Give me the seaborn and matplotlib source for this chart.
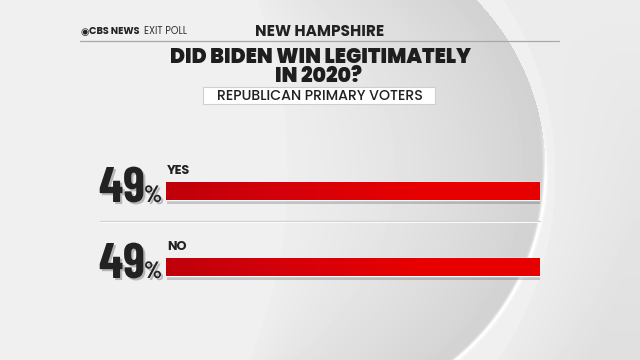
import numpy as np
import pandas as pd
import matplotlib
matplotlib.use("Agg")
import matplotlib.pyplot as plt
import matplotlib.patheffects as pe
from matplotlib.lines import Line2D
from matplotlib.patches import Rectangle
from matplotlib.colors import LinearSegmentedColormap
import seaborn as sns

# ---- data ----
answers = ["YES", "NO"]
shares = [49, 49]
value_labels = ["49", "49"]
state = "NEW HAMPSHIRE"
title_lines = ["DID BIDEN WIN LEGITIMATELY", "IN 2020?"]
subgroup = "REPUBLICAN PRIMARY VOTERS"

sns.set_theme(style="white")
GEO = ["Poppins", "Lato", "DejaVu Sans"]
COND = ["Barlow Condensed", "Roboto Condensed", "Oswald", "DejaVu Sans"]
plt.rcParams["font.family"] = GEO

W, H = 640, 360
fig = plt.figure(figsize=(6.4, 3.6), dpi=100)

# ---- background shading ----
bg = fig.add_axes([0, 0, 1, 1], zorder=-10)
yy, xx = np.mgrid[0:H, 0:W].astype(float)
dB = np.hypot(xx - 230, yy - 175) - 325
val = np.where(dB < 0, 0.94, 0.925 - 0.05 * np.clip(dB / 80, 0, 1) * (yy / H))
dH = np.hypot(xx - 300, yy - 170) - 245
dL = np.hypot(xx + 200, yy - 170) - 487
lens = (dH < 0) & (dL > 0)
t = np.clip(dL / (dL - dH + 1e-9), 0, 1)
val = np.where(lens, 0.93 - 0.11 * t ** 1.3, val)
hl = np.exp(-(dH / 2.2) ** 2) * np.clip((yy - 120) / 60, 0, 1) * (xx > 300)
val = val * (1 - hl) + 1.0 * hl
bg.imshow(val, cmap="gray", vmin=0, vmax=1, extent=[0, W, H, 0], aspect="auto", interpolation="bilinear")
bg.set_xlim(0, W)
bg.set_ylim(H, 0)
bg.axis("off")

def fx(x):
    return x / W

def fy(y):
    return 1 - y / H

# ---- bar axes ----
row_gap = 76
ax_top = 191 - row_gap / 2
ax_h = 2 * row_gap
ax = fig.add_axes([fx(166), fy(ax_top + ax_h), fx(540) - fx(166), ax_h / H])
df = pd.DataFrame({"answer": answers, "share": shares})
sns.barplot(data=df, x="share", y="answer", orient="h", color="#d80000",
            width=18 / row_gap, ax=ax, saturation=1)
ax.set_xlim(0, max(shares))
ax.set_ylim(1.5, -0.5)
ax.axis("off")
ax.patch.set_alpha(0)

grad = np.linspace(0, 1, 256).reshape(1, -1)
redmap = LinearSegmentedColormap.from_list("r", ["#bf000b", "#d6000a", "#e60000", "#e80000"])
for p in ax.patches:
    p.set_path_effects([pe.SimplePatchShadow(offset=(1, -3), shadow_rgbFace="#000000", alpha=0.18), pe.Normal()])
    x0, y0 = p.get_x(), p.get_y()
    w, h = p.get_width(), p.get_height()
    im = ax.imshow(grad, cmap=redmap, extent=[x0, x0 + w, y0 + h, y0], aspect="auto", zorder=3)
    im.set_clip_path(p)
ax.set_xlim(0, max(shares))
ax.set_ylim(1.5, -0.5)

shadow = [pe.withSimplePatchShadow(offset=(1.5, -1.5), alpha=0.25)]
for i, (lab, v) in enumerate(zip(answers, value_labels)):
    ax.annotate(v, xy=(0, i), xytext=(-21, -11), textcoords="offset pixels",
                ha="right", va="baseline", fontsize=36, fontweight="bold",
                family=COND, color="#222222",
                path_effects=shadow, annotation_clip=False)
    ax.annotate("%", xy=(0, i), xytext=(-4, -11), textcoords="offset pixels",
                ha="right", va="baseline", fontsize=17, fontweight="bold",
                family=COND, color="#222222",
                path_effects=shadow, annotation_clip=False)
    ax.annotate(lab, xy=(0, i), xytext=(1, 17), textcoords="offset pixels",
                ha="left", va="baseline", fontsize=9.2, fontweight="bold",
                family=GEO, color="#222222", annotation_clip=False)

# separator
fig.add_artist(Line2D([fx(100), fx(540)], [fy(221), fy(221)], color="#d2d2d2", lw=1))
fig.add_artist(Line2D([fx(100), fx(540)], [fy(222), fy(222)], color="#fafafa", lw=0.8))

# ---- header ----
fig.add_artist(Line2D([fx(80), fx(559)], [fy(41), fy(41)], color="#a8a8a8", lw=0.9))
fig.text(fx(80.5), fy(34.5), "◉", fontsize=7, color="#222222", ha="left", va="baseline",
         family=["DejaVu Sans"])
fig.text(fx(89), fy(34.5), "CBS NEWS", fontsize=7, fontweight="bold", color="#222222",
         ha="left", va="baseline", family=GEO)
fig.text(fx(144), fy(34.5), "EXIT POLL", fontsize=7, fontweight="normal", color="#333333",
         ha="left", va="baseline", family=GEO)
fig.text(fx(320), fy(36), state, fontsize=11, fontweight="bold", color="#222222",
         ha="center", va="baseline", family=GEO)
fig.text(fx(320), fy(63), title_lines[0], fontsize=14.6, fontweight="black", color="#1e1e1e",
         ha="center", va="baseline", family=GEO)
fig.text(fx(318), fy(81.5), title_lines[1], fontsize=14.6, fontweight="black", color="#1e1e1e",
         ha="center", va="baseline", family=GEO)
fig.add_artist(Rectangle((fx(203), fy(104)), fx(435) - fx(203), (104 - 87) / H,
                         transform=fig.transFigure, facecolor="white", edgecolor="#cfcfcf", lw=0.8))
fig.text(fx(320), fy(100.5), subgroup, fontsize=10.2, fontweight="medium", color="#222222",
         ha="center", va="baseline", family=GEO)

fig.savefig("out.png", dpi=100)
